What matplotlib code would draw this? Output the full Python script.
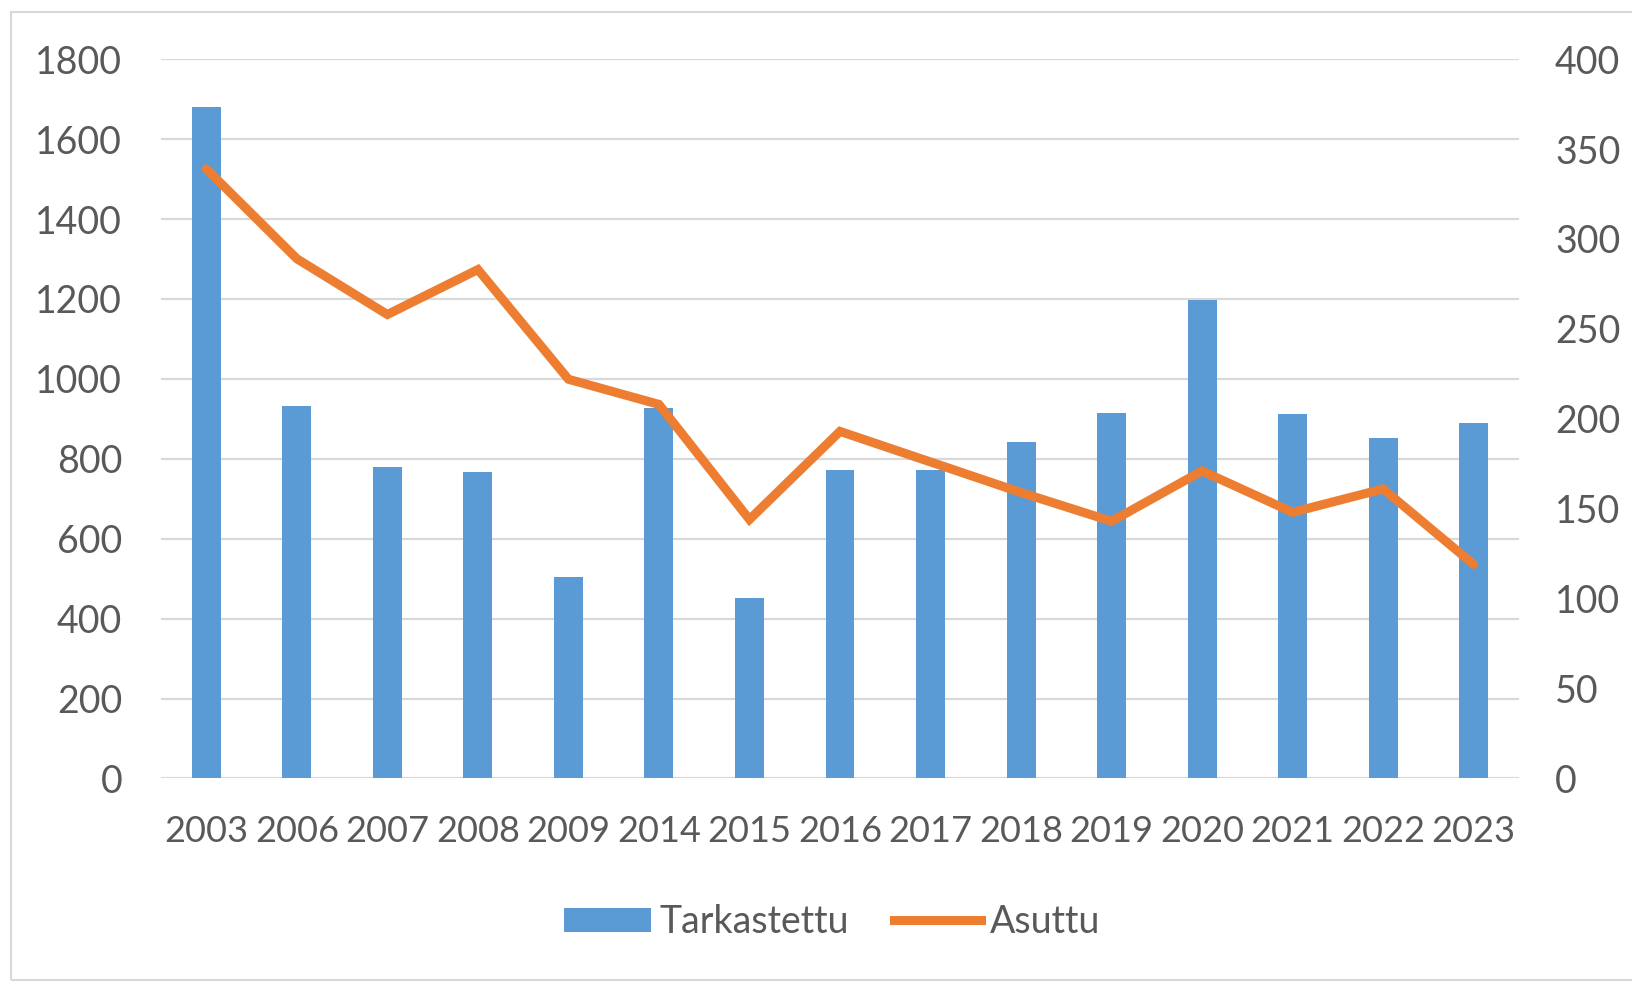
import matplotlib
matplotlib.use("Agg")
import matplotlib.pyplot as plt
from matplotlib.patches import Rectangle
from matplotlib.lines import Line2D
from matplotlib.patches import Patch

years = ["2003", "2006", "2007", "2008", "2009", "2014", "2015", "2016",
         "2017", "2018", "2019", "2020", "2021", "2022", "2023"]
tarkastettu = [1680, 932, 780, 768, 503, 926, 452, 771, 771, 843, 915, 1197, 911, 851, 889]
asuttu = [339, 289, 258, 283, 222, 208, 144, 193, 176, 159, 143, 171, 148, 161, 119]
left_ticks = [0, 200, 400, 600, 800, 1000, 1200, 1400, 1600, 1800]
right_ticks = [0, 50, 100, 150, 200, 250, 300, 350, 400]

BLUE = "#5B9BD5"
ORANGE = "#ED7D31"
GRID = "#D9D9D9"
TXT = "#595959"
FONT = ["Lato", "DejaVu Sans"]
plt.rcParams["font.family"] = FONT

fig = plt.figure(figsize=(16.32, 9.86), dpi=100)
ax = fig.add_axes([0.0987, 0.2105, 0.832, 0.7295])
ax2 = ax.twinx()

x = list(range(len(years)))
ax.bar(x, tarkastettu, width=0.32, color=BLUE, zorder=2)
ax2.plot(x, asuttu, color=ORANGE, lw=6.5, solid_capstyle="round", solid_joinstyle="miter", zorder=3)

ax.set_xlim(-0.5, len(years) - 0.5)
ax.set_ylim(0, 1800)
ax2.set_ylim(0, 400)
ax.set_yticks(left_ticks)
ax2.set_yticks(right_ticks)
ax.set_xticks(x)
ax.set_xticklabels(years)

ax.grid(axis="y", color=GRID, lw=1.6, zorder=0)
ax.set_axisbelow(True)
for a in (ax, ax2):
    for s in a.spines.values():
        s.set_visible(False)
    a.tick_params(length=0, labelsize=27, labelcolor=TXT)
ax.tick_params(axis="y", pad=28)
ax.tick_params(axis="x", pad=26)
ax2.tick_params(axis="y", pad=26)
for lbl in ax.get_xticklabels():
    lbl.set_fontsize(26)

handles = [Patch(facecolor=BLUE, edgecolor="none"),
           Line2D([0], [0], color=ORANGE, lw=6.5)]
fig.legend(handles, ["Tarkastettu", "Asuttu"], loc="center",
           bbox_to_anchor=(0.51, 0.065), ncol=2, frameon=False,
           fontsize=27, labelcolor=TXT, handlelength=2.3, handleheight=0.6,
           handletextpad=0.25, columnspacing=1.2)

fig.add_artist(Rectangle((0.007, 0.006), 1.2, 0.982, transform=fig.transFigure,
                         fill=False, edgecolor="#D8D8D8", lw=1.5))

fig.savefig("out.png", dpi=100)
